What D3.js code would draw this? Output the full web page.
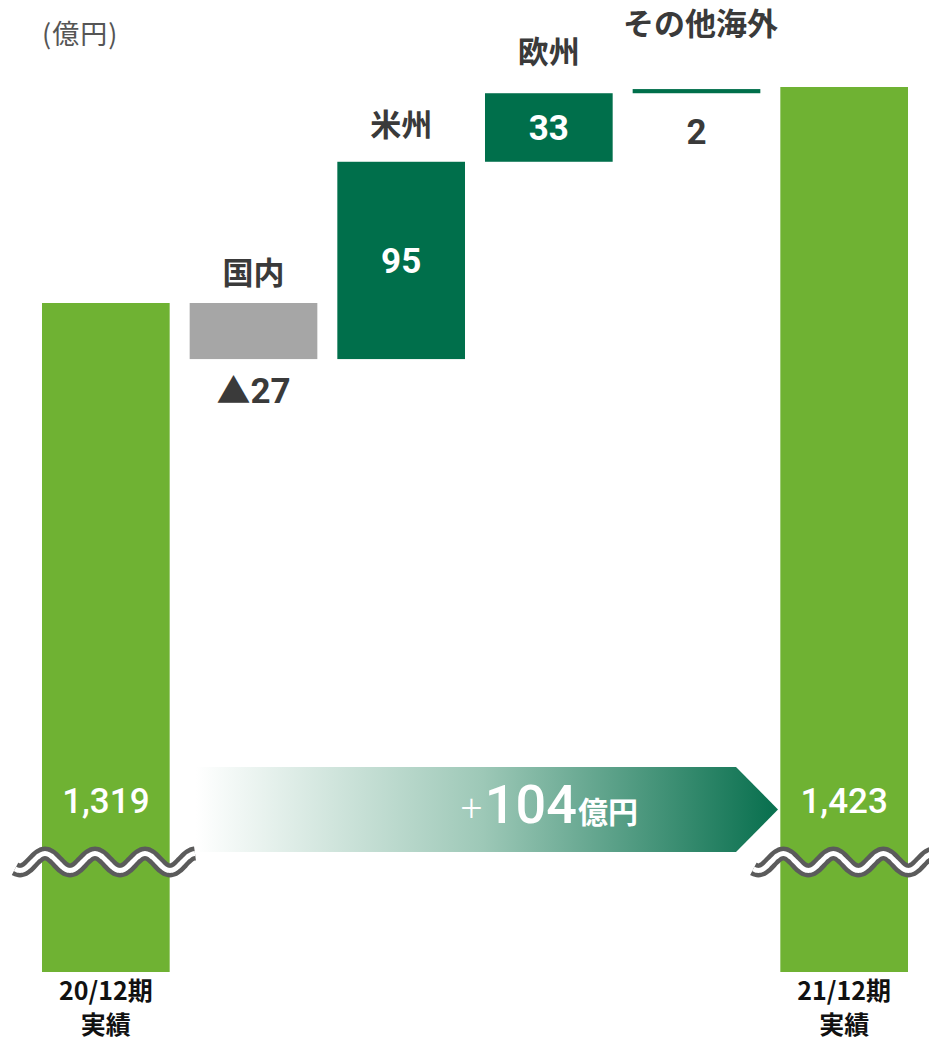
<!DOCTYPE html>
<html>
<head>
<meta charset="utf-8">
<script src="https://cdn.jsdelivr.net/npm/d3@7"></script>
<style>
  body { margin: 0; background: #fff; }
</style>
</head>
<body>
<svg id="chart" width="929" height="1041" font-family="'Noto Sans', 'Noto Sans CJK JP', sans-serif"></svg>
<script>
// data
const categories = ["start", "国内", "米州", "欧州", "その他海外", "end"];
const startValue = 1319;
const endValue = 1423;
const deltas = [-27, 95, 33, 2];
const periodLabels = [["20/12期", "実績"], ["21/12期", "実績"]];
const totalChange = "104";
const unitLabel = "(億円)";

const svg = d3.select("#chart");
const green = "#6fb233", dark = "#006f4b", grey = "#a6a6a6", ink = "#3a3a3a";
const bottom = 972;

const x = d3.scaleBand().domain(categories).range([32, 918]).paddingInner(0.1354).paddingOuter(0.0677);
const y = d3.scaleLinear().domain([startValue, endValue]).range([303, 87]);

// build waterfall steps
let run = startValue;
const steps = deltas.map(function(d, i){
    const s = {key: categories[i + 1], v0: run, v1: run + d, d: d};
    run += d;
    return s;
});

// gradient for arrow
const defs = svg.append("defs");
const grad = defs.append("linearGradient").attr("id", "arrowGrad")
    .attr("gradientUnits", "userSpaceOnUse").attr("x1", 196).attr("x2", 770).attr("y1", 0).attr("y2", 0);
grad.append("stop").attr("offset", 0).attr("stop-color", "#ffffff");
grad.append("stop").attr("offset", 0.5).attr("stop-color", "#9dc8b7");
grad.append("stop").attr("offset", 1).attr("stop-color", "#0b7150");

// base bars
const totals = [{key: "start", v: startValue}, {key: "end", v: endValue}];
svg.selectAll(".total").data(totals).enter().append("rect")
    .attr("class", "total")
    .attr("x", d => x(d.key)).attr("width", x.bandwidth())
    .attr("y", d => y(d.v)).attr("height", d => bottom - y(d.v))
    .attr("fill", green);

// delta bars
svg.selectAll(".step").data(steps).enter().append("rect")
    .attr("class", "step")
    .attr("x", d => x(d.key)).attr("width", x.bandwidth())
    .attr("y", d => y(Math.max(d.v0, d.v1)))
    .attr("height", d => Math.abs(y(d.v0) - y(d.v1)))
    .attr("fill", d => d.d < 0 ? grey : dark);

// arrow
const ax0 = 196, ax1 = 736, tip = 778, ay0 = 767, ay1 = 852;
svg.append("path")
    .attr("d", `M${ax0},${ay0}H${ax1}L${tip},${(ay0 + ay1) / 2}L${ax1},${ay1}H${ax0}Z`)
    .attr("fill", "url(#arrowGrad)");

const chg = svg.append("text").attr("y", 823).attr("fill", "#fff");
chg.append("tspan").attr("x", 460).attr("font-size", 40).attr("font-weight", 300).text("+");
chg.append("tspan").attr("dx", 2).attr("font-size", 54).attr("font-weight", 500)
    .attr("font-family", "Roboto").text(totalChange);
chg.append("tspan").attr("dx", 1).attr("font-size", 30).attr("font-weight", 700)
    .attr("font-family", "Noto Sans CJK JP").text("億円");

// total value labels
svg.selectAll(".tlab").data(totals).enter().append("text")
    .attr("x", d => x(d.key) + x.bandwidth() / 2).attr("y", 813)
    .attr("text-anchor", "middle").attr("fill", "#fff")
    .attr("font-size", 35).attr("font-weight", 500).attr("font-family", "Roboto")
    .text(d => d3.format(",")(d.v));

// break marks
const wave = function(x0){
    const pts = d3.range(x0 - 27, x0 + 155, 2).map(function(px){
        return [px, 862 - 8.5 * Math.cos(2 * Math.PI * (px - x0 - 3) / 50)];
    });
    return d3.line().curve(d3.curveBasis)(pts);
};
[x("start"), x("end")].forEach(function(bx){
    svg.append("path").attr("d", wave(bx)).attr("fill", "none")
        .attr("stroke", "#5b5b5b").attr("stroke-width", 14);
    svg.append("path").attr("d", wave(bx)).attr("fill", "none")
        .attr("stroke", "#fff").attr("stroke-width", 5);
});

// category labels
const labelY = {"国内": 273, "米州": 125, "欧州": 52, "その他海外": 24};
svg.selectAll(".clab").data(steps).enter().append("text")
    .attr("x", d => x(d.key) + x.bandwidth() / 2 + (d.key === "その他海外" ? 4 : 0))
    .attr("y", d => labelY[d.key]).attr("dy", "0.35em")
    .attr("text-anchor", "middle").attr("fill", ink)
    .attr("font-size", 31).attr("font-weight", 700)
    .attr("font-family", "Noto Sans CJK JP")
    .text(d => d.key);

// delta value labels
const vlab = svg.selectAll(".vlab").data(steps).enter().append("text")
    .attr("x", d => x(d.key) + x.bandwidth() / 2)
    .attr("y", function(d){
        const top = y(Math.max(d.v0, d.v1)), bot = y(Math.min(d.v0, d.v1));
        if (d.d < 0) return bot + 31;
        if (bot - top < 40) return bot + 38;
        return (top + bot) / 2;
    })
    .attr("dy", "0.36em").attr("text-anchor", "middle")
    .attr("fill", d => (d.d > 0 && Math.abs(y(d.v0) - y(d.v1)) >= 40) ? "#fff" : ink)
    .attr("font-size", 35).attr("font-weight", 700).attr("font-family", "Roboto");
vlab.filter(d => d.d < 0).append("tspan")
    .attr("font-family", "Noto Sans CJK JP").attr("font-size", 34).text("▲");
vlab.append("tspan").text(d => Math.abs(d.d));

// period labels
[["start", periodLabels[0]], ["end", periodLabels[1]]].forEach(function(p){
    p[1].forEach(function(line, i){
        svg.append("text").attr("text-anchor", "middle").attr("fill", "#111")
            .attr("font-size", 25).attr("font-weight", 700).attr("font-family", "Noto Sans CJK JP")
            .attr("x", x(p[0]) + x.bandwidth() / 2).attr("y", 1000 + i * 34).text(line);
    });
});

// unit
svg.append("text").attr("x", 42).attr("y", 44).attr("fill", "#555")
    .attr("font-size", 27).attr("letter-spacing", 1).attr("font-family", "Noto Sans CJK JP").text(unitLabel);
</script>
</body>
</html>
